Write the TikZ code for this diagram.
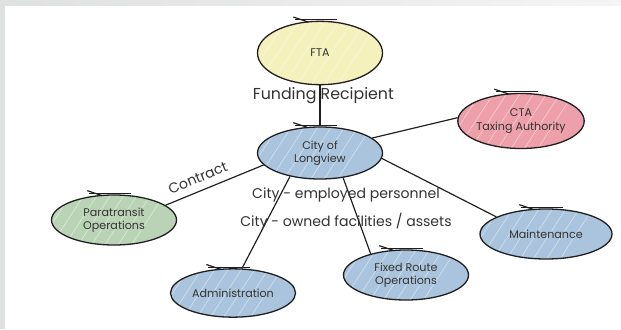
\documentclass[tikz,border=0pt]{standalone}
\usepackage{fontspec}
\setmainfont{Poppins}
\newfontfamily\titlefont{Liberation Sans}
\usepackage{xcolor}
\definecolor{lineDark}{HTML}{1E1E1E}
\definecolor{textDark}{HTML}{333333}
\definecolor{ftaColor}{HTML}{F4F1BC}
\definecolor{cityColor}{HTML}{A9C4DC}
\definecolor{ctaColor}{HTML}{EDA0A9}
\definecolor{paraColor}{HTML}{BAD3B6}
\definecolor{frameGray}{HTML}{DFE0E0}
\usepackage{tikz}
\usetikzlibrary{shapes.geometric,positioning,calc}
\tikzset{
  bubble/.style={
    ellipse,
    draw=lineDark,
    line width=1.1pt,
    minimum width=3.75cm,
    minimum height=1.55cm,
    inner sep=0pt,
    align=center,
    text=textDark,
    font=\fontsize{9.5}{11.5}\selectfont,
    path picture={
      \foreach \k in {-4,...,6}
        \draw[overlay, white, opacity=0.45, line width=0.6pt]
          ([xshift=\k*0.4cm]path picture bounding box.south west) -- ++(1.3,2);
    }
 },
  ftaBox/.style={bubble, fill=ftaColor},
  cityBox/.style={bubble, fill=cityColor},
  ctaBox/.style={bubble, fill=ctaColor},
  paraBox/.style={bubble, fill=paraColor},
  linkLine/.style={
    color=lineDark,
    line width=1pt
 },
  linkText/.style={
    text=textDark,
    font=\fontsize{12}{14}\selectfont
 }
}

\begin{document}
\begin{tikzpicture}[node distance=3cm, on grid]
            \useasboundingbox (0,0) rectangle (18.63,9.87);
            \clip (0,0) rectangle (18.63,9.87);
            % frame
            \fill[frameGray] (0,0) rectangle (18.63,9.87);
            \shade[left color=frameGray, right color=gray!8] (0,9.69) rectangle (18.63,9.87);
            \fill[white] (0.15,0) rectangle (18.63,9.69);
            \node[overlay, anchor=base west, inner sep=0pt, font=\titlefont\bfseries\fontsize{40}{40}\selectfont] (title) at (10.35,10.4) {gency};

            % City box
            \node[cityBox, minimum height=1.56cm] (city) at (9.6,5.28) {City of\\Longview};
            % FTA box
            \node[ftaBox, minimum height=1.9cm, above=3cm of city] (fta) {FTA};
            % CTA box
            \node[ctaBox, minimum height=1.65cm, above right=0.96cm and 6.03cm of city] (cta) {CTA\\Taxing Authority};
            % Paratransit box
            \node[paraBox, minimum height=1.5cm, below left=2.01cm and 6.18cm of city] (para) {Paratransit\\Operations};
            % Administration box
            \node[cityBox, minimum height=1.45cm, below left=4.2cm and 2.61cm of city] (admin) {Administration};
            % Fixed route box
            \node[cityBox, minimum height=1.5cm, below right=3.66cm and 2.58cm of city] (fixed) {Fixed Route\\Operations};
            % Maintenance box
            \node[cityBox, minimum width=3.96cm, minimum height=1.5cm, below right=2.43cm and 6.78cm of city] (maint) {Maintenance};

            % sketch ticks
            \foreach \n in {fta,city,cta,para,admin,fixed,maint}{
              \draw[linkLine] ([shift={(-0.75,0.03)}]\n.north) -- ([shift={(0.5,0.03)}]\n.north);
              \draw[linkLine] ([shift={(-0.8,0.11)}]\n.north) -- ([shift={(-0.35,-0.04)}]\n.north);
            }

            \draw[linkLine] (city.north) -- node[linkText, pos=0.74, xshift=0.1cm, font=\fontsize{13.5}{15}\selectfont]{Funding Recipient} (fta.south);
            \draw[linkLine] (city.16) -- (cta.177);
            \draw[linkLine] (para.16) -- node[linkText, pos=0.38, above=3pt, sloped]{Contract} (city.192);
            \draw[linkLine] (city.218) -- (admin.70);
            \draw[linkLine] (city.313) -- (fixed.149);
            \draw[linkLine] (city.355) -- (maint.161);

            % free labels
            \node[linkText, below right=1.26cm and 0.78cm of city] (staff) {City - employed personnel};
            \node[linkText, below=0.81cm of staff] (assets) {City - owned facilities / assets};
        \end{tikzpicture}
\end{document}
